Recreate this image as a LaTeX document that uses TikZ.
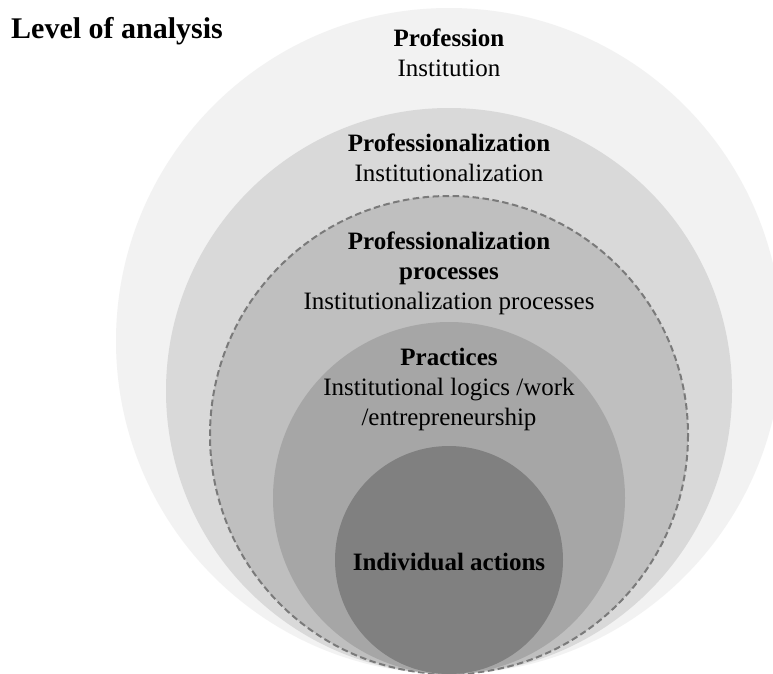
\documentclass[tikz,border=0pt]{standalone}
\usepackage{fontspec}
\setmainfont{Liberation Serif}
\definecolor{lvlA}{HTML}{F2F2F2}
\definecolor{lvlB}{HTML}{D9D9D9}
\definecolor{lvlC}{HTML}{BFBFBF}
\definecolor{lvlD}{HTML}{A6A6A6}
\definecolor{lvlE}{HTML}{808080}
\definecolor{dashcol}{HTML}{7A7A7A}
\tikzset{
  lvltext/.style={align=center, inner sep=0pt, font=\fontsize{25}{30}\selectfont},
  titletext/.style={anchor=west, inner sep=0pt, font=\fontsize{30}{34}\selectfont\bfseries},
  dashring/.style={draw=dashcol, line width=2pt, dash pattern=on 6.5pt off 3.5pt}
}
\begin{document}
\begin{tikzpicture}[x=1pt,y=-1pt]
\path[use as bounding box] (0,0) rectangle (773,673);
\clip (0,0) rectangle (773,673);
\fill[white] (0,0) rectangle (773,673);
% nested levels, all touching at the bottom
\fill[lvlA] (449,341) circle[radius=333];
\fill[lvlB] (449,391) circle[radius=283];
\fill[lvlC] (449,435) circle[radius=239];
\draw[dashring] (449,435) circle[radius=239];
\fill[lvlD] (449,498) circle[radius=176];
\fill[lvlE] (449,560) circle[radius=114];
% texts
\node[titletext] (title) at (11,31) {Level of analysis};
\node[lvltext] (prof) at (449,53) {\textbf{Profession}\\Institution};
\node[lvltext] (profz) at (449,158) {\textbf{Professionalization}\\Institutionalization};
\node[lvltext] (proc) at (449,273) {\textbf{Professionalization}\\\textbf{processes}\\Institutionalization processes};
\node[lvltext] (prac) at (449,389) {\textbf{Practices}\\Institutional logics /work\\/entrepreneurship};
\node[lvltext] (indiv) at (449,562) {\textbf{Individual actions}};
\end{tikzpicture}
\end{document}
